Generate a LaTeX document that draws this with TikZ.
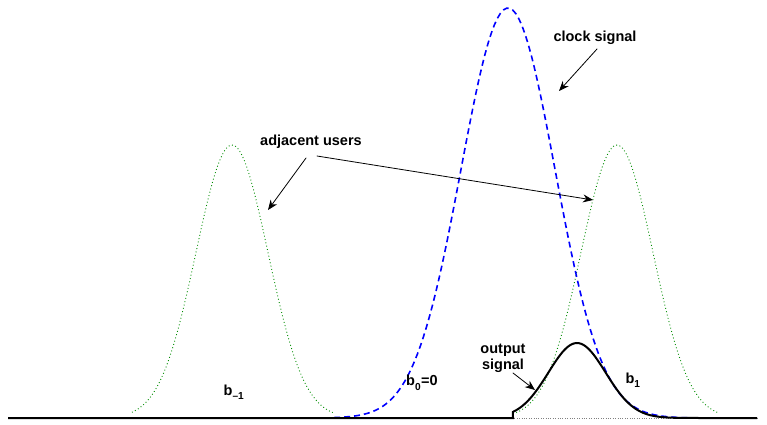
\documentclass[tikz,border=0pt]{standalone}
\usepackage{fontspec}
\setmainfont{Liberation Sans}
\usepackage{tkz-euclide}
\usetikzlibrary{arrows.meta}

\tikzset{
  userpulse/.style={green!55!black, line width=0.9pt, dash pattern=on 0.9pt off 2.5pt},
  clockpulse/.style={blue, line width=1.6pt, dash pattern=on 6pt off 4pt},
  outpulse/.style={black, line width=2pt},
  callout/.style={-{Stealth[length=10pt,width=8pt]}, line width=0.8pt},
  tag/.style={font=\fontsize{14.5}{16}\selectfont\bfseries, inner sep=0pt, align=center}
}

\begin{document}
\begin{tikzpicture}[x=1pt,y=1pt]
                    \useasboundingbox (0,0) rectangle (767,424);
                    \draw[gray, dotted] (8,6) -- (757,6);

                    % neighbouring pulses and the clock
                    \draw[userpulse] plot[domain=-2.78:2.8, samples=90] ({232+36*\x},{6+273*exp(-\x*\x/2)});
                    \draw[userpulse] plot[domain=-2.8:2.8, samples=90] ({617+36*\x},{6+273*exp(-\x*\x/2)});
                    \draw[clockpulse] plot[domain=-3.7:4.1, samples=120] ({508+47*\x},{6+410*exp(-\x*\x/2)});

                    % output
                    \draw[outpulse] (8,6) -- (513,6)
                        -- plot[domain=-2.24:4.3, samples=80] ({577+28.6*\x},{6+75*exp(-\x*\x/2)})
                        -- (757,6);

                    \node[tag] (clock) at (595,386) {clock signal};
                    \node[tag] (users) at (311,282) {adjacent users};
                    \node[tag] (output) at (503,66) {output\\signal};
                    \node[tag] (bm) at (234,32) {b\raisebox{-0.3ex}{\textsubscript{--1}}};
                    \node[tag] (bz) at (422,41) {b\raisebox{-0.3ex}{\textsubscript{0}}=0};
                    \node[tag] (bp) at (633,44) {b\raisebox{-0.3ex}{\textsubscript{1}}};

                    \tkzDefPoint(597,375){C1}
                    \tkzDefPoint(559,333){C2}
                    \tkzDefPoint(306,266){U1}
                    \tkzDefPoint(268,214){U2}
                    \tkzDefPoint(317,268){V1}
                    \tkzDefPoint(593,224){V2}
                    \tkzDefPoint(513,51){O1}
                    \tkzDefPoint(535,34){O2}
                    \tkzDrawSegments[callout](C1,C2 U1,U2 V1,V2 O1,O2)
\end{tikzpicture}
\end{document}
